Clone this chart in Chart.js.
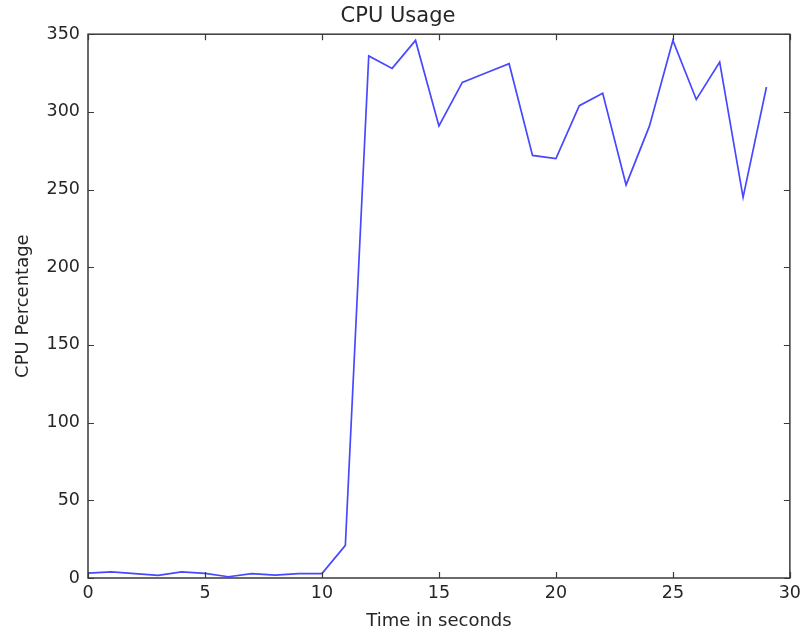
<!DOCTYPE html>
<html>
<head>
<meta charset="utf-8">
<script src="https://cdn.jsdelivr.net/npm/chart.js@4"></script>
<style>
  html, body { margin: 0; padding: 0; background: #fff; }
  #wrap { width: 806px; height: 635px; }
</style>
</head>
<body>
<div id="wrap"><canvas id="cpu-chart" width="806" height="635"></canvas></div>
<script>
// values
const seconds = [0, 1, 2, 3, 4, 5, 6, 7, 8, 9, 10, 11, 12, 13, 14, 15, 16, 17, 18, 19, 20, 21, 22, 23, 24, 25, 26, 27, 28, 29];
const cpuPercent = [3.2, 4, 2.8, 1.7, 4, 3, 0.8, 2.8, 1.9, 2.8, 2.8, 21, 336, 328, 346, 291, 319, 325, 331, 272, 270, 304, 312, 253, 291, 346, 308, 332, 245, 316];
const xTicks = [0, 5, 10, 15, 20, 25, 30];
const yTicks = [0, 50, 100, 150, 200, 250, 300, 350];

const points = seconds.map((s, i) => ({ x: s, y: cpuPercent[i] }));
const font = 'DejaVu Sans';
const textColor = '#262626';

// matplotlib classic look: closed frame with ticks pointing inward on all sides
const framePlugin = {
    id: 'frame',
    afterDatasetsDraw(chart) {
        const { ctx, chartArea: a, scales } = chart;
        const len = 6;
        ctx.save();
        ctx.strokeStyle = '#3a3a3a';
        ctx.lineWidth = 1.5;
        ctx.strokeRect(a.left, a.top, a.right - a.left, a.bottom - a.top);
        ctx.lineWidth = 1.2;
        ctx.beginPath();
        xTicks.forEach(v => {
            const px = Math.round(scales.x.getPixelForValue(v)) + 0.5;
            ctx.moveTo(px, a.bottom); ctx.lineTo(px, a.bottom - len);
            ctx.moveTo(px, a.top); ctx.lineTo(px, a.top + len);
        });
        yTicks.forEach(v => {
            const py = Math.round(scales.y.getPixelForValue(v)) + 0.5;
            ctx.moveTo(a.left, py); ctx.lineTo(a.left + len, py);
            ctx.moveTo(a.right, py); ctx.lineTo(a.right - len, py);
        });
        ctx.stroke();
        ctx.restore();
    }
};

new Chart(document.getElementById('cpu-chart').getContext('2d'), {
    type: 'line',
    data: {
        datasets: [{
            data: points,
            borderColor: '#4848ff',
            borderWidth: 1.7,
            pointRadius: 0,
            tension: 0,
            fill: false
        }]
    },
    options: {
        responsive: false,
        animation: false,
        layout: { padding: { left: 2, right: 12, top: 0, bottom: 0 } },
        plugins: {
            legend: { display: false },
            tooltip: { enabled: false },
            title: {
                display: true,
                text: 'CPU Usage',
                color: textColor,
                font: { family: font, size: 21, weight: 'normal' },
                padding: { top: 4, bottom: 5 }
            }
        },
        scales: {
            x: {
                type: 'linear',
                min: 0,
                max: 30,
                grid: { display: false, drawTicks: false },
                border: { display: false },
                afterBuildTicks: s => { s.ticks = xTicks.map(v => ({ value: v })); },
                afterFit: s => { s.height = 57; },
                ticks: {
                    color: textColor,
                    font: { family: font, size: 17.5 },
                    padding: 5,
                    maxRotation: 0
                },
                title: {
                    display: true,
                    text: 'Time in seconds',
                    color: textColor,
                    font: { family: font, size: 18 },
                    padding: { top: 0, bottom: 3 }
                }
            },
            y: {
                min: 0,
                max: 350,
                grid: { display: false, drawTicks: false },
                border: { display: false },
                afterBuildTicks: s => { s.ticks = yTicks.map(v => ({ value: v })); },
                afterFit: s => { s.width = 86; },
                ticks: {
                    color: textColor,
                    font: { family: font, size: 17.5 },
                    padding: 8
                },
                title: {
                    display: true,
                    text: 'CPU Percentage',
                    color: textColor,
                    font: { family: font, size: 18 },
                    padding: { top: 11, bottom: 0 }
                }
            }
        }
    },
    plugins: [framePlugin]
});
</script>
</body>
</html>
